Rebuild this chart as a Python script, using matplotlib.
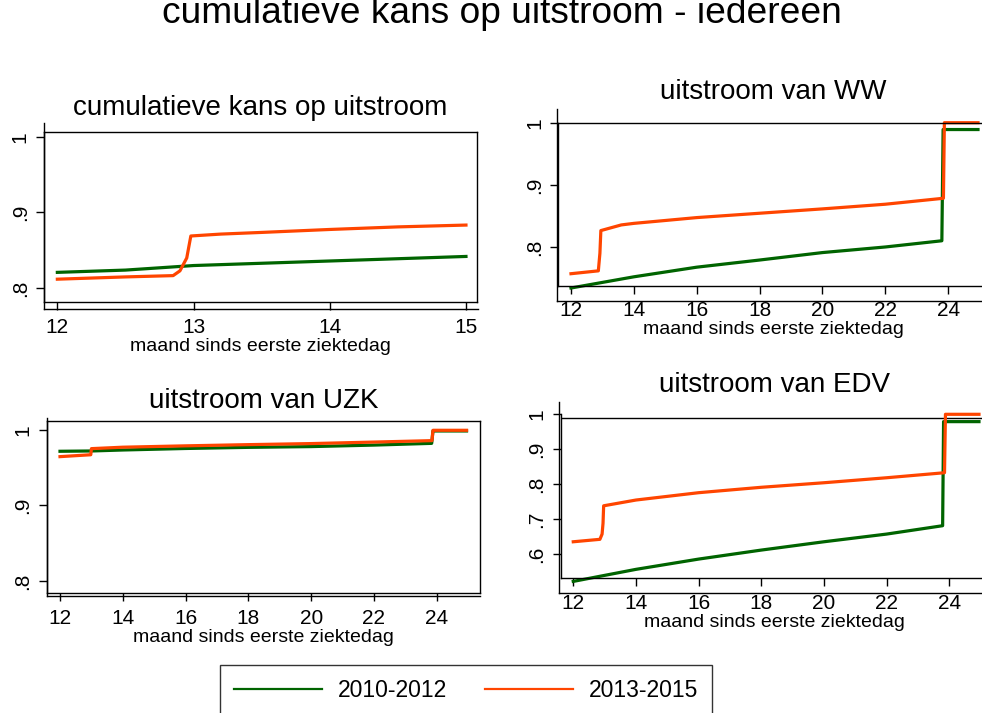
import matplotlib
matplotlib.use('Agg')
import matplotlib.pyplot as plt
from matplotlib.lines import Line2D

# ---- data ----
# panel 1: cumulatieve kans op uitstroom, months 12-15
p1_x_old = [12, 12.5, 13, 14, 15]
p1_y_old = [0.821, 0.824, 0.830, 0.836, 0.842]
p1_x_new = [12, 12.5, 12.85, 12.9, 12.95, 12.98, 13.2, 13.5, 14, 14.5, 15]
p1_y_new = [0.812, 0.815, 0.8167, 0.823, 0.840, 0.869, 0.8715, 0.8737, 0.8776, 0.881, 0.8834]

# panel 2: uitstroom van WW
p2_x_old = [12, 14, 16, 18, 20, 22, 23.8, 23.84, 24.95]
p2_y_old = [0.734, 0.752, 0.7675, 0.779, 0.791, 0.800, 0.810, 0.989, 0.989]
p2_x_new = [12, 12.87, 12.92, 12.95, 13.6, 14, 16, 18, 20, 22, 23.85, 23.88, 24.95]
p2_y_new = [0.757, 0.7616, 0.790, 0.8264, 0.8355, 0.838, 0.8473, 0.8543, 0.8613, 0.8688, 0.8784, 1.0, 1.0]

# panel 3: uitstroom van UZK
p3_x_old = [12, 13, 14, 16, 18, 20, 22, 23.84, 23.88, 24.95]
p3_y_old = [0.9718, 0.9722, 0.9735, 0.9755, 0.977, 0.978, 0.980, 0.9823, 0.9987, 0.9987]
p3_x_new = [12, 12.98, 13.0, 14, 16, 18, 20, 22, 23.85, 23.88, 24.95]
p3_y_new = [0.9647, 0.9672, 0.9753, 0.9772, 0.979, 0.9806, 0.982, 0.984, 0.9859, 0.9996, 0.9996]

# panel 4: uitstroom van EDV
p4_x_old = [12, 14, 16, 18, 20, 22, 23.79, 23.82, 24.95]
p4_y_old = [0.5215, 0.556, 0.5854, 0.6112, 0.635, 0.657, 0.681, 0.979, 0.979]
p4_x_new = [12, 12.85, 12.92, 12.95, 12.97, 14, 16, 18, 20, 22, 23.85, 23.88, 24.95]
p4_y_new = [0.635, 0.642, 0.657, 0.688, 0.738, 0.7545, 0.7755, 0.791, 0.804, 0.8183, 0.8327, 1.0, 1.0]

labels = ['2010-2012', '2013-2015']
c_old = '#006400'
c_new = '#ff4500'
xlabel = 'maand sinds eerste ziektedag'

plt.rcParams['font.family'] = ['Liberation Sans', 'DejaVu Sans']

W, H = 982, 713
fig = plt.figure(figsize=(W / 100, H / 100), dpi=100)


def fline(xs, ys):
	# line in figure pixel coordinates (y from top)
	fig.add_artist(Line2D([x / W for x in xs], [1 - y / H for y in ys],
		transform=fig.transFigure, color='black', lw=1.0))


def panel(l, t, r, b, xlim, ylim, xticks, yticks, yticklabels, title, title_x, title_pad):
	ax = fig.add_axes([l / W, 1 - b / H, (r - l) / W, (b - t) / H])
	ax.set_xlim(*xlim)
	ax.set_ylim(*ylim)
	ax.set_xticks(xticks)
	ax.set_xticklabels([str(v) for v in xticks])
	ax.set_yticks(yticks)
	ax.set_yticklabels(yticklabels, rotation=90, va='center')
	ax.tick_params(axis='x', direction='out', length=5.8, width=1.0, pad=5.5, labelsize=15)
	ax.tick_params(axis='y', direction='out', length=5.8, width=1.0, pad=4.5, labelsize=15)
	for s in ax.spines.values():
		s.set_linewidth(1.0)
	ax.set_xlabel(xlabel, fontsize=14, labelpad=0.5)
	ax.set_title(title, fontsize=20, x=title_x, pad=title_pad)
	return ax


# panel 1
ax1 = panel(44, 132, 477, 302.3, (11.902, 15.081), (0.7815, 1.0062), [12, 13, 14, 15],
	[0.8, 0.9, 1.0], ['.8', '.9', '1'], 'cumulatieve kans op uitstroom', 0.5, 12)
ax1.plot(p1_x_old, p1_y_old, color=c_old, lw=2.3)
ax1.plot(p1_x_new, p1_y_new, color=c_new, lw=2.3)
fline([44, 478], [309.3, 309.3])
fline([44, 44], [309.3, 123])

# panel 2
ax2 = panel(558.3, 122.7, 989, 285.7, (11.596, 25.30), (0.7377, 1.0), list(range(12, 26, 2)),
	[0.8, 0.9, 1.0], ['.8', '.9', '1'], 'uitstroom van WW', 0.499, 17)
ax2.plot(p2_x_old, p2_y_old, color=c_old, lw=2.3, clip_on=False)
ax2.plot(p2_x_new, p2_y_new, color=c_new, lw=2.3, clip_on=False)
fline([556.7, 982], [300.7, 300.7])
fline([556.7, 556.7], [300.7, 109])

# panel 3
ax3 = panel(46.7, 420.7, 480, 593.3, (11.576, 25.379), (0.7837, 1.0123), list(range(12, 26, 2)),
	[0.8, 0.9, 1.0], ['.8', '.9', '1'], 'uitstroom van UZK', 0.5, 9.5)
ax3.plot(p3_x_old, p3_y_old, color=c_old, lw=2.3)
ax3.plot(p3_x_new, p3_y_new, color=c_new, lw=2.3)
fline([46.7, 480], [595.5, 595.5])
fline([46.7, 46.7], [595.5, 418])

# panel 4
ax4 = panel(560.7, 414.3, 989, 578.3, (11.599, 25.27), (0.5304, 1.0), list(range(12, 26, 2)),
	[0.6, 0.7, 0.8, 0.9, 1.0], ['.6', '.7', '.8', '.9', '1'], 'uitstroom van EDV', 0.5, 16)
ax4.spines['top'].set_visible(False)
ax4.axhline(0.9903, color='black', lw=1.0)
ax4.plot(p4_x_old, p4_y_old, color=c_old, lw=2.3, clip_on=False)
ax4.plot(p4_x_new, p4_y_new, color=c_new, lw=2.3, clip_on=False)
fline([559, 982], [593.3, 593.3])
fline([559, 559], [593.3, 401.7])

# overall title, cut off at the top edge as in the original export
fig.text(501.5 / W, 1 - 23 / H, 'cumulatieve kans op uitstroom - iedereen',
	fontsize=26.7, ha='center', va='baseline')

handles = [Line2D([], [], color=c_old, lw=1.6), Line2D([], [], color=c_new, lw=1.6)]
leg = fig.legend(handles, labels, ncol=2, loc='upper left',
	bbox_to_anchor=(220 / W, 1 - 665 / H), frameon=True, fancybox=False,
	fontsize=16.5, handlelength=3.85, handletextpad=0.69, columnspacing=1.66,
	borderpad=0.6, borderaxespad=0)
leg.get_frame().set_edgecolor('black')
leg.get_frame().set_linewidth(1.0)

fig.savefig('out.png', dpi=100)
